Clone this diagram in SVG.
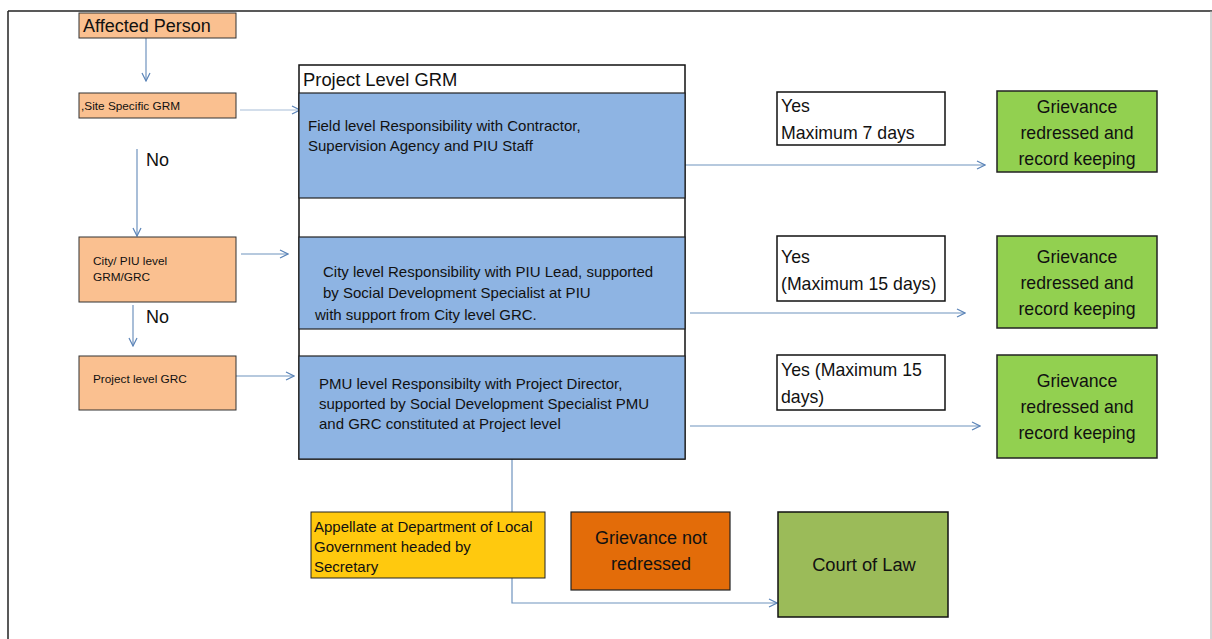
<svg xmlns="http://www.w3.org/2000/svg" width="1212" height="639" viewBox="0 0 1212 639">
<defs>
<marker id="arr" viewBox="0 0 10 10" refX="9" refY="5" markerWidth="10" markerHeight="10" markerUnits="userSpaceOnUse" orient="auto">
<path d="M1,1 L9,5 L1,9" fill="none" stroke="#5B84B8" stroke-width="1.2"/>
</marker>
</defs>
<style>
text{font-family:"Liberation Sans",Arial,sans-serif;fill:#111}
.peach{fill:#FAC090;stroke:#333;stroke-width:1}
.blue{fill:#8EB4E3;stroke:#222;stroke-width:1.2}
.yes{fill:#fff;stroke:#111;stroke-width:1.5}
.green{fill:#92D050;stroke:#222;stroke-width:1.5}
.conn line,.conn path{stroke:#6F93BE;stroke-width:1.2;fill:none}
.s11{font-size:11.8px}
.s13{font-size:15px}
.s16{font-size:17.7px}
.s17{font-size:18px}
</style>
<rect width="1212" height="639" fill="#fff"/>
<g id="frame">
<line x1="8" y1="11" x2="1212" y2="11" stroke="#222" stroke-width="1.5"/>
<line x1="8" y1="11" x2="8" y2="639" stroke="#222" stroke-width="1.5"/>
<line x1="1211" y1="11" x2="1211" y2="639" stroke="#aaa" stroke-width="1"/>
</g>
<g id="connectors" class="conn">
<line x1="146" y1="38" x2="146" y2="81" marker-end="url(#arr)"/>
<line x1="240" y1="110" x2="300" y2="110" stroke-opacity="0.6" marker-end="url(#arr)"/>
<line x1="137" y1="149" x2="137" y2="236" marker-end="url(#arr)"/>
<line x1="241" y1="254" x2="288" y2="254" marker-end="url(#arr)"/>
<line x1="133" y1="305" x2="133" y2="346" marker-end="url(#arr)"/>
<line x1="236" y1="376" x2="294" y2="376" marker-end="url(#arr)"/>
<line x1="685" y1="165" x2="985" y2="165" marker-end="url(#arr)"/>
<line x1="690" y1="313" x2="965" y2="313" marker-end="url(#arr)"/>
<line x1="690" y1="426" x2="980" y2="426" marker-end="url(#arr)"/>
<path d="M512,459 V512 M512,578 V603 H777" marker-end="url(#arr)"/>
</g>
<g id="affected-person">
<rect x="79" y="13" width="157" height="25" class="peach"/>
<text x="83" y="32" class="s17">Affected Person</text>
</g>
<g id="site-specific-grm">
<rect x="79" y="93" width="157" height="25" class="peach"/>
<text x="81" y="110" class="s11">,Site Specific GRM</text>
</g>
<g id="no1"><text x="146" y="166" class="s17">No</text></g>
<g id="city-piu">
<rect x="79" y="237" width="157" height="65" class="peach"/>
<text x="93" y="265" class="s11">City/ PIU level</text>
<text x="93" y="281" class="s11">GRM/GRC</text>
</g>
<g id="no2"><text x="146" y="323" class="s17">No</text></g>
<g id="project-grc">
<rect x="79" y="356" width="157" height="54" class="peach"/>
<text x="93" y="383" class="s11">Project level GRC</text>
</g>
<g id="project-level-grm">
<rect x="299" y="65" width="386" height="394" fill="#fff" stroke="#111" stroke-width="1.5"/>
<text x="303" y="86" style="font-size:18.4px">Project Level GRM</text>
<rect x="299" y="93" width="386" height="105" class="blue"/>
<text x="308" y="131" class="s13">Field level Responsibility with Contractor,</text>
<text x="308" y="151" class="s13">Supervision Agency and PIU Staff</text>
<rect x="299" y="237" width="386" height="92" class="blue"/>
<text x="323" y="277" class="s13">City level Responsibility with PIU Lead, supported</text>
<text x="323" y="298" class="s13">by Social Development Specialist at PIU</text>
<text x="315" y="320" class="s13">with support from City level GRC.</text>
<rect x="299" y="356" width="386" height="103" class="blue"/>
<text x="319" y="389" class="s13">PMU level Responsibilty with Project Director,</text>
<text x="319" y="409" class="s13">supported by Social Development Specialist PMU</text>
<text x="319" y="429" class="s13">and GRC constituted at Project level</text>
</g>
<g id="yes1">
<rect x="777" y="92" width="168" height="53" class="yes"/>
<text x="781" y="112" class="s16">Yes</text>
<text x="781" y="139" class="s16">Maximum 7 days</text>
</g>
<g id="yes2">
<rect x="777" y="236" width="168" height="65" class="yes"/>
<text x="781" y="263" class="s16">Yes</text>
<text x="781" y="290" class="s16">(Maximum 15 days)</text>
</g>
<g id="yes3">
<rect x="777" y="355" width="168" height="55" class="yes"/>
<text x="781" y="376" class="s16">Yes (Maximum 15</text>
<text x="781" y="403" class="s16">days)</text>
</g>
<g id="redressed1">
<rect x="997" y="91" width="160" height="81" class="green"/>
<text x="1077" y="113" class="s16" text-anchor="middle">Grievance</text>
<text x="1077" y="139" class="s16" text-anchor="middle">redressed and</text>
<text x="1077" y="165" class="s16" text-anchor="middle">record keeping</text>
</g>
<g id="redressed2">
<rect x="997" y="236" width="160" height="92" class="green"/>
<text x="1077" y="263" class="s16" text-anchor="middle">Grievance</text>
<text x="1077" y="289" class="s16" text-anchor="middle">redressed and</text>
<text x="1077" y="315" class="s16" text-anchor="middle">record keeping</text>
</g>
<g id="redressed3">
<rect x="997" y="355" width="160" height="103" class="green"/>
<text x="1077" y="387" class="s16" text-anchor="middle">Grievance</text>
<text x="1077" y="413" class="s16" text-anchor="middle">redressed and</text>
<text x="1077" y="439" class="s16" text-anchor="middle">record keeping</text>
</g>
<g id="appellate">
<rect x="311" y="512" width="234" height="66" fill="#FFC90E" stroke="#222" stroke-width="1"/>
<text x="314" y="532" class="s13">Appellate at Department of Local</text>
<text x="314" y="552" class="s13">Government headed by</text>
<text x="314" y="572" class="s13">Secretary</text>
</g>
<g id="not-redressed">
<rect x="571" y="512" width="159" height="78" fill="#E36C09" stroke="#222" stroke-width="1.2"/>
<text x="651" y="544" style="font-size:18px" text-anchor="middle">Grievance not</text>
<text x="651" y="570" style="font-size:18px" text-anchor="middle">redressed</text>
</g>
<g id="court-of-law">
<rect x="778" y="512" width="170" height="105" fill="#9BBB59" stroke="#111" stroke-width="1.5"/>
<text x="864" y="571" style="font-size:18.3px" text-anchor="middle">Court of Law</text>
</g>
</svg>
